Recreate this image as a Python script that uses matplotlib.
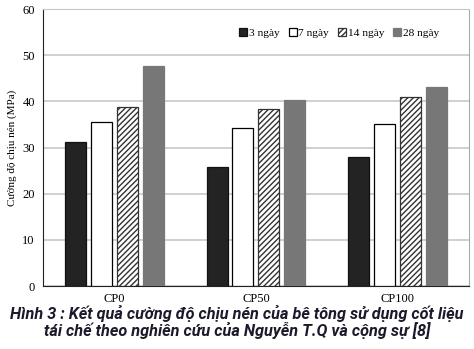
import numpy as np
import matplotlib.pyplot as plt

# data
groups = ['CP0', 'CP50', 'CP100']
series = ['3 ngày', '7 ngày', '14 ngày', '28 ngày']
d3 = [31.2, 25.8, 27.9]
d7 = [35.5, 34.3, 35.2]
d14 = [38.7, 38.3, 41.0]
d28 = [47.7, 40.3, 43.1]
values = [d3, d7, d14, d28]

fig = plt.figure(figsize=(4.74, 3.49), dpi=100)
ax = fig.add_axes([0.091, 0.18, 0.898, 0.794])

x = np.arange(len(groups))
slot = 0.183
width = 0.148
styles = [
    dict(color='#232323', edgecolor='#111111'),
    dict(color='white', edgecolor='black'),
    dict(color='white', edgecolor='#333333', hatch='//////'),
    dict(color='#777777', edgecolor='#777777'),
]
plt.rcParams['hatch.linewidth'] = 1.0
for i, (vals, st) in enumerate(zip(values, styles)):
    ax.bar(x + (i - 1.5) * slot, vals, width, label=series[i], linewidth=0.9, zorder=3, **st)

ax.set_xlim(-0.5, 2.5)
ax.set_ylim(0, 60)
ax.set_yticks(range(0, 61, 10))
ax.set_xticks(x)
ax.set_xticklabels(groups)
ax.tick_params(length=0, labelsize=9, pad=6)
ax.tick_params(axis='x', pad=5)
for lab in ax.get_xticklabels() + ax.get_yticklabels():
    lab.set_fontfamily('Liberation Serif')
ax.yaxis.grid(True, color='#c8c8c8', linewidth=1.2, zorder=0)
ax.spines['top'].set_color('#c8c8c8')
ax.spines['right'].set_color('#aaaaaa')
ax.spines['left'].set_color('#222222')
ax.spines['bottom'].set_color('#222222')
ax.set_ylabel('Cường độ chịu nén (MPa)', fontfamily='Liberation Serif', fontsize=8, labelpad=4)

leg = ax.legend(loc='center right', bbox_to_anchor=(0.955, 0.913), ncol=4, frameon=False,
                prop={'family': 'Liberation Serif', 'size': 8.2},
                handlelength=0.7, handleheight=0.7, handletextpad=0.15, columnspacing=0.8)

cap_kw = dict(ha='center', va='center', fontsize=11.7, fontweight='bold', style='italic',
              family='Roboto', color='#1a1a2a')
fig.text(0.5, 0.102, 'Hình 3 : Kết quả cường độ chịu nén của bê tông sử dụng cốt liệu', **cap_kw)
fig.text(0.5, 0.052, 'tái chế theo nghiên cứu của Nguyễn T.Q và cộng sự [8]', **cap_kw)

fig.savefig('out.png', dpi=100)
